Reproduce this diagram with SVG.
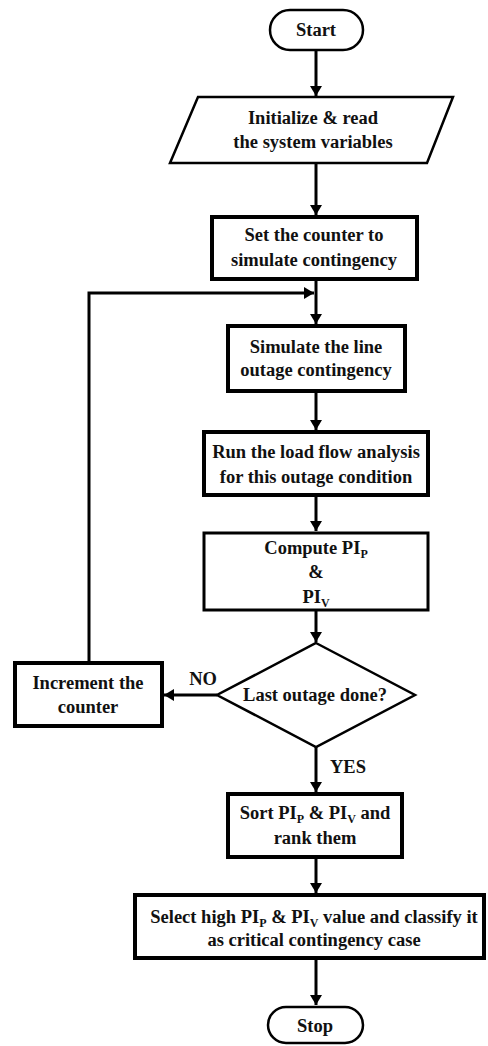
<svg xmlns="http://www.w3.org/2000/svg" width="488" height="1046" viewBox="0 0 488 1046">
<style>
text{font-family:"Liberation Serif","Times New Roman",serif;font-weight:bold;font-size:18.5px;fill:#111;text-anchor:middle}
.sub{font-size:12px}
.box{fill:#fff;stroke:#000;stroke-width:4}
.thin{stroke-width:3}
.term{fill:#fff;stroke:#000;stroke-width:2.5}
.c{fill:none;stroke:#000;stroke-width:3}
</style>
<defs>
<marker id="ah" viewBox="0 0 10 12" refX="10" refY="6" markerWidth="10" markerHeight="12" markerUnits="userSpaceOnUse" orient="auto">
<path d="M0,0 L10,6 L0,12 Z" fill="#000"/>
</marker>
</defs>
<g id="connectors">
<line class="c" x1="316" y1="50" x2="316" y2="96" marker-end="url(#ah)"/>
<line class="c" x1="316" y1="163" x2="316" y2="215" marker-end="url(#ah)"/>
<line class="c" x1="316" y1="279" x2="316" y2="324" marker-end="url(#ah)"/>
<polyline class="c" points="89,663 89,293 314,293" marker-end="url(#ah)"/>
<line class="c" x1="316" y1="391" x2="316" y2="430" marker-end="url(#ah)"/>
<line class="c" x1="316" y1="495" x2="316" y2="531" marker-end="url(#ah)"/>
<line class="c" x1="316" y1="610" x2="316" y2="642" marker-end="url(#ah)"/>
<line class="c" x1="217" y1="695" x2="164" y2="695" marker-end="url(#ah)"/>
<line class="c" x1="316" y1="747" x2="316" y2="792" marker-end="url(#ah)"/>
<line class="c" x1="316" y1="857" x2="316" y2="893" marker-end="url(#ah)"/>
<line class="c" x1="316" y1="958" x2="316" y2="1005" marker-end="url(#ah)"/>
<text x="203" y="685">NO</text>
<text x="348" y="773">YES</text>
</g>
<g id="start">
<rect class="term" x="270" y="10" width="93" height="40" rx="20"/>
<text x="316" y="36">Start</text>
</g>
<g id="init">
<polygon class="term" points="198,97 453,97 427,163 170,163"/>
<text x="313" y="124">Initialize &amp; read</text>
<text x="313" y="148">the system variables</text>
</g>
<g id="setcounter">
<rect class="box" x="212" y="217" width="205" height="62"/>
<text x="314" y="241">Set the counter to</text>
<text x="314" y="266">simulate contingency</text>
</g>
<g id="simulate">
<rect class="box" x="228" y="326" width="177" height="65"/>
<text x="316" y="353">Simulate the line</text>
<text x="316" y="376">outage contingency</text>
</g>
<g id="loadflow">
<rect class="box" x="204" y="432" width="224" height="63"/>
<text x="316" y="458">Run the load flow analysis</text>
<text x="316" y="483">for this outage condition</text>
</g>
<g id="compute">
<rect class="box thin" x="204" y="533" width="224" height="77"/>
<text x="316" y="554">Compute PI<tspan class="sub" dy="4">P</tspan></text>
<text x="316" y="578">&amp;</text>
<text x="316" y="603">PI<tspan class="sub" dy="4">V</tspan></text>
</g>
<g id="decision">
<polygon class="term" points="316,643 415,695 316,747 217,695"/>
<text x="315" y="701">Last outage done?</text>
</g>
<g id="increment">
<rect class="box" x="15" y="663" width="147" height="63"/>
<text x="88" y="689">Increment the</text>
<text x="88" y="713">counter</text>
</g>
<g id="sort">
<rect class="box" x="228" y="794" width="174" height="63"/>
<text x="315" y="819">Sort PI<tspan class="sub" dy="4">P</tspan><tspan dy="-4"> &amp; PI</tspan><tspan class="sub" dy="4">V</tspan><tspan dy="-4"> and</tspan></text>
<text x="315" y="844">rank them</text>
</g>
<g id="select">
<rect class="box" x="135" y="895" width="349" height="63"/>
<text x="314" y="923">Select high PI<tspan class="sub" dy="4">P</tspan><tspan dy="-4"> &amp; PI</tspan><tspan class="sub" dy="4">V</tspan><tspan dy="-4"> value and classify it</tspan></text>
<text x="314" y="946">as critical contingency case</text>
</g>
<g id="stop">
<rect class="term" x="268" y="1007" width="95" height="36" rx="18"/>
<text x="315" y="1032">Stop</text>
</g>
</svg>
